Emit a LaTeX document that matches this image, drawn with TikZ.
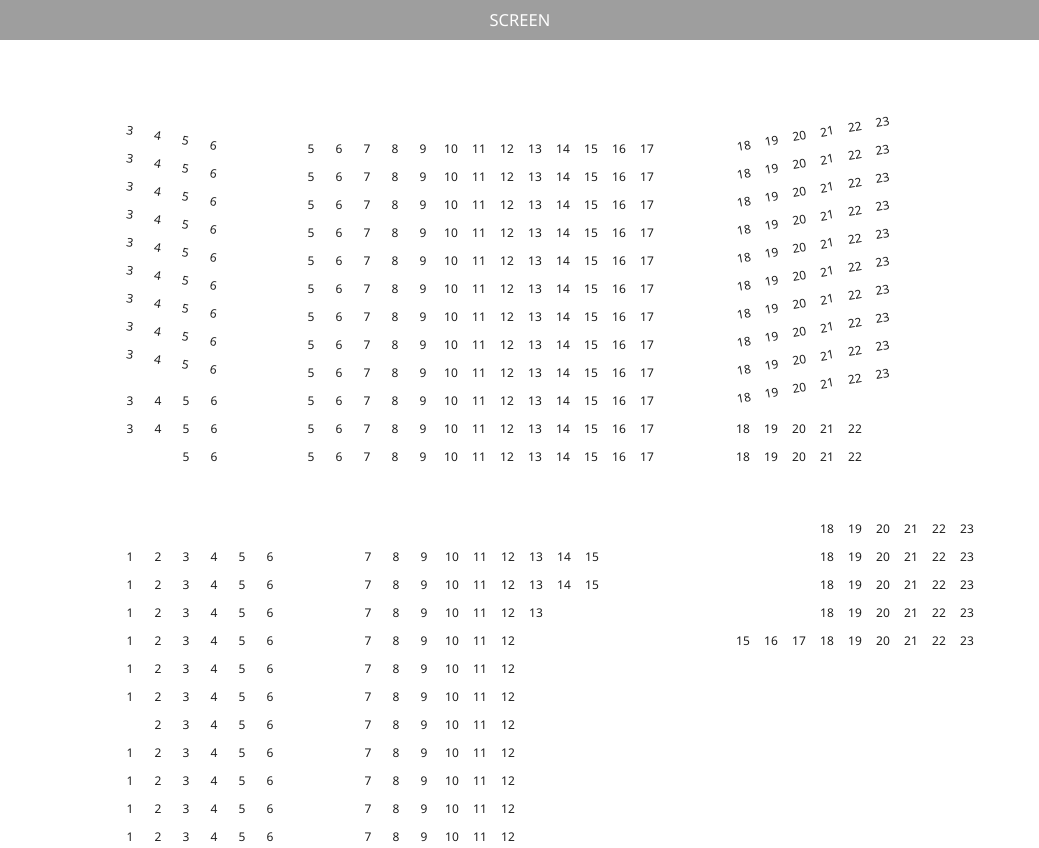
\documentclass[tikz,border=0pt]{standalone}
\usepackage{fontspec}
\setmainfont{Noto Sans}
\usetikzlibrary{positioning}
\definecolor{screengray}{HTML}{9E9E9E}
\definecolor{seatink}{HTML}{1E1E1E}

\begin{document}
\begin{tikzpicture}[x=1pt,y=-1pt,
  seat/.style={inner sep=0pt,text=seatink,font=\fontsize{12}{14}\selectfont},
  screenlabel/.style={inner sep=0pt,text=white,font=\fontsize{16.5}{18}\selectfont}]
\useasboundingbox (0,0) rectangle (1039,847);
\fill[screengray] (0,0) rectangle (1039,40);
\node[screenlabel] (screen) at (520,21) {SCREEN};

% top left, angled rows
\foreach \r in {0,...,8}
  \foreach \s in {3,...,6}
    \node[seat,rotate=-10] (tl-\r-\s) at ({130+(\s-3)*27.8},{131+28*\r+(\s-3)*5}) {\s};
% top left, straight rows
\foreach \r/\first in {0/3,1/3,2/5}
  \foreach \s in {\first,...,6}
    \node[seat] (tls-\r-\s) at ({130+(\s-3)*28},{401+28*\r}) {\s};

% top middle
\foreach \r in {0,...,11}
  \foreach \s in {5,...,17}
    \node[seat] (tm-\r-\s) at ({311+(\s-5)*28},{149+28*\r}) {\s};

% top right, angled rows
\foreach \r in {0,...,9}
  \foreach \s in {18,...,23}
    \node[seat,rotate=10] (tr-\r-\s) at ({744+(\s-18)*27.7},{146+28*\r-(\s-18)*4.8}) {\s};
% top right, straight rows
\foreach \r in {0,1}
  \foreach \s in {18,...,22}
    \node[seat] (trs-\r-\s) at ({743+(\s-18)*28},{429+28*\r}) {\s};

% bottom left
\foreach \r/\first in {0/1,1/1,2/1,3/1,4/1,5/1,6/2,7/1,8/1,9/1,10/1}
  \foreach \s in {\first,...,6}
    \node[seat] (bl-\r-\s) at ({130+(\s-1)*28},{557+28*\r}) {\s};

% bottom middle
\foreach \r/\last in {0/15,1/15,2/13,3/12,4/12,5/12,6/12,7/12,8/12,9/12,10/12}
  \foreach \s in {7,...,\last}
    \node[seat] (bm-\r-\s) at ({368+(\s-7)*28},{557+28*\r}) {\s};

% bottom right
\foreach \r/\first in {0/18,1/18,2/18,3/18,4/15}
  \foreach \s in {\first,...,23}
    \node[seat] (br-\r-\s) at ({743+(\s-15)*28},{529+28*\r}) {\s};
\end{tikzpicture}
\end{document}
